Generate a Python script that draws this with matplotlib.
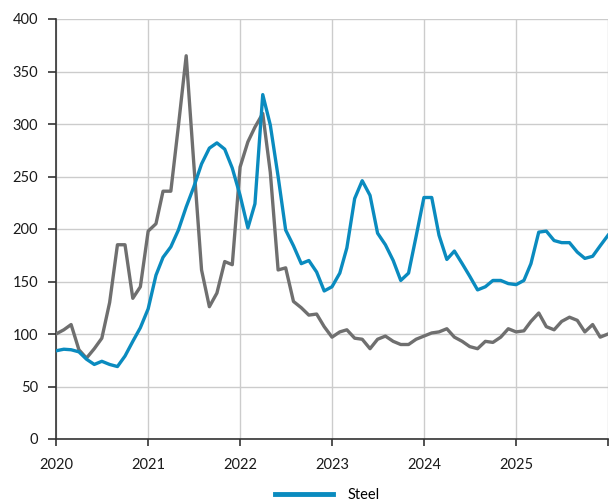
import matplotlib
matplotlib.use("Agg")
import matplotlib.pyplot as plt
import pandas as pd

plt.rcParams['font.family'] = ['Lato', 'DejaVu Sans']

dates = pd.date_range("2020-01-01", periods=73, freq="MS")

steel = [84, 85.5, 85, 83, 76, 71, 74, 71, 69, 79,
         93, 106, 124, 156, 173, 183, 199, 221, 240, 262,
         277, 282, 276, 258, 232, 201, 224, 328, 299, 250,
         199, 184, 167, 170, 159, 141, 145, 158, 182, 229,
         246, 232, 196, 185, 170, 151, 158, 193, 230, 230,
         194, 171, 179, 167, 155, 142, 145, 151, 151, 148,
         147, 151, 167, 197, 198, 189, 187, 187, 178, 172,
         174, 184, 194]

other = [100, 104, 109, 85, 77, 86, 96, 130, 185, 185,
         134, 145, 198, 205, 236, 236, 298, 365, 263, 161,
         126, 139, 169, 166, 259, 283, 297, 310, 254, 161,
         163, 131, 125, 118, 119, 107, 97, 102, 104, 96,
         95, 86, 95, 98, 93, 90, 90, 95, 98, 101,
         102, 105, 97, 93, 88, 86, 93, 92, 97, 105,
         102, 103, 112, 120, 107, 104, 112, 116, 113, 102,
         109, 97, 100]

year_ticks = [2020, 2021, 2022, 2023, 2024, 2025, 2026]
year_labels = ["2020", "2021", "2022", "2023", "2024", "2025", ""]
y_ticks = [0, 50, 100, 150, 200, 250, 300, 350, 400]

fig = plt.figure(figsize=(6.09, 5.04), dpi=100)
ax = fig.add_axes([56/609, 1-439/504, (608-56)/609, (439-19)/504])

ax.plot(dates, other, color="#6f6f6f", lw=2.4, zorder=3)
ax.plot(dates, steel, color="#0a8bbf", lw=2.4, label="Steel", zorder=4)

ax.set_ylim(0, 400)
ax.set_yticks(y_ticks)
ax.set_xlim(pd.Timestamp("2020-01-01"), pd.Timestamp("2026-01-01"))
ax.set_xticks([pd.Timestamp(f"{y}-01-01") for y in year_ticks])
ax.set_xticklabels(year_labels)

ax.grid(True, color="#cccccc", lw=1)
ax.set_axisbelow(True)
for s in ["top", "right"]:
    ax.spines[s].set_visible(False)
for s in ["left", "bottom"]:
    ax.spines[s].set_color("#333333")
    ax.spines[s].set_linewidth(1.2)

ax.tick_params(axis="y", length=6, width=1.2, color="#333333", pad=7,
               labelsize=10.5, labelcolor="#1a1a1a")
ax.tick_params(axis="x", length=5, width=1.2, color="#333333", pad=9,
               labelsize=10.5, labelcolor="#1a1a1a")

fig.legend(loc="center", bbox_to_anchor=(0.537, 0.018), frameon=False,
           fontsize=10.5, handlelength=4.0, handletextpad=1.0)
for line in fig.legends[0].get_lines():
    line.set_linewidth(3.5)

fig.savefig("out.png", dpi=100)
